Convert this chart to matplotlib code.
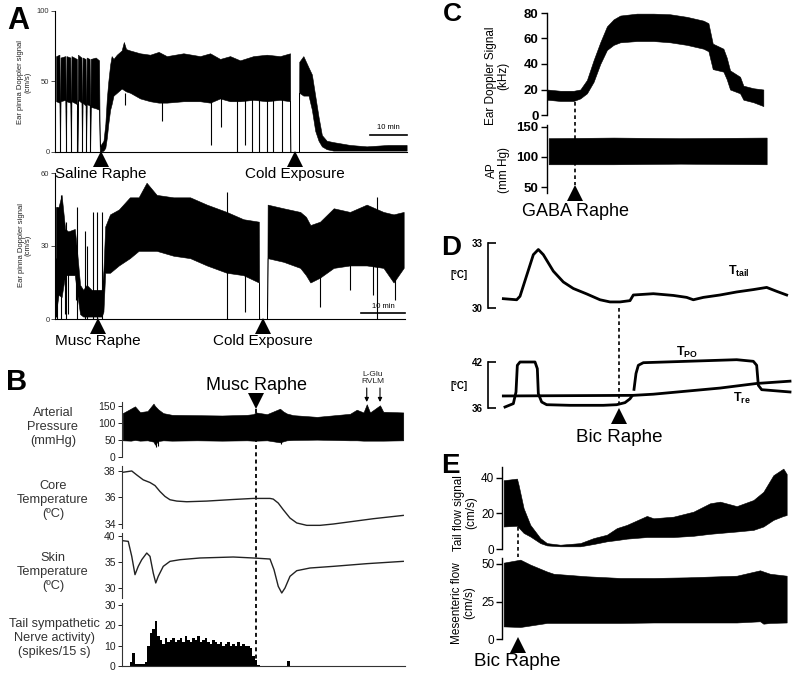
import numpy as np
import matplotlib
matplotlib.use("Agg")
import matplotlib.pyplot as plt
from matplotlib.transforms import blended_transform_factory as blend

plt.rcParams['font.family'] = ['Liberation Sans', 'DejaVu Sans']
plt.rcParams['mathtext.fontset'] = 'custom'
plt.rcParams['mathtext.rm'] = 'Liberation Sans'
plt.rcParams['mathtext.bf'] = 'Liberation Sans:bold'
plt.rcParams['mathtext.it'] = 'Liberation Sans:italic'

# ---------------- data ----------------
# Panel A, top: ear pinna Doppler (cm/s) vs time (min), saline raphe
A1_t = [0.3, 1.2, 1.35, 1.5, 2.8, 2.95, 3.1, 4.15, 4.3, 4.45, 5.9, 6.05, 6.2, 7.15, 7.3, 7.45, 8.25, 8.4,
        8.55, 9.35, 9.5, 9.65, 11.0, 11.9, 12.1, 13.1, 13.6, 14.0, 14.4, 14.9, 15.3, 15.8,
        16.7, 18.0, 18.6, 19.2, 20.3, 23.0, 25.7, 28.0, 30.2, 34.7, 39.2, 41.9, 44.6, 47.3, 50.0, 53.6, 57.2,
        60.8, 63.5, 63.6, 65.9, 66.0, 67.1, 68.5, 69.4, 70.3, 71.2, 72.1, 73.4, 75.2, 79.7, 84.2, 90.0, 95.0]
A1_hi = [68, 69, 0, 67, 68, 0, 68, 67, 0, 68, 66, 0, 69, 67, 0, 67, 66, 0,
         67, 66, 0, 66, 67, 65, 4, 8, 20, 38, 50, 62, 68, 66,
         69, 72, 78, 73, 72, 70, 69, 71, 68, 70, 68, 70, 66, 68, 65, 68, 69,
         68, 70, 0, 0, 64, 68, 60, 55, 40, 25, 12, 8, 7, 5, 4, 5, 5]
A1_lo = [36, 35, 0, 36, 37, 0, 36, 35, 0, 36, 34, 0, 37, 35, 0, 35, 33, 0,
         34, 33, 0, 32, 31, 30, 0, 1, 3, 10, 20, 30, 34, 40,
         42, 45, 44, 43, 42, 38, 36, 35, 35, 36, 36, 35, 38, 36, 36, 37, 36,
         37, 36, 0, 0, 42, 40, 40, 30, 15, 8, 4, 2, 1, 1, 1, 1, 1]
A1_spike_t = [1.35, 2.95, 4.3, 6.05, 7.3, 8.4, 9.5, 18.9, 28.8, 42.2, 44.8, 49.1, 51.4, 53.2, 55.0, 57.2, 59.0, 61.3]
A1_spike_y = [0, 0, 0, 0, 0, 0, 0, 33, 22, 5, 18, 0, 5, 0, 0, 0, 0, 0]
A1_spike_top = [30, 30, 30, 30, 30, 30, 30, 42, 42, 42, 42, 42, 42, 42, 42, 42, 42, 42]
A1_events = {"Saline Raphe": 12.4, "Cold Exposure": 64.9}

# Panel A, bottom: muscimol raphe
A2_t = [0.2, 0.8, 1.5, 2.3, 3.0, 4.5, 4.9, 5.7, 6.4, 7.2, 8.3, 9.5, 10.6, 11.0, 11.4, 12.5, 14.5, 17.0,
        19.0, 20.8, 23.1, 26.9, 30.7, 34.5, 39.0, 42.8, 46.3, 46.4, 48.2, 48.3, 51.9, 55.7, 57.0, 58.0,
        60.2, 63.3, 67.0, 70.8, 74.6, 76.9, 79.2]
A2_hi = [46, 46, 51, 37, 36, 37, 30, 14, 12, 14, 12, 12, 12, 20, 38, 43, 45, 50, 50, 56,
         51, 50, 50, 47, 44, 41, 40, 0, 0, 47, 45.5, 44, 42, 38.6, 40, 45.5, 44, 47, 44, 43, 44]
A2_lo = [2, 10, 9, 18, 18, 18, 12, 2, 1, 1, 1, 1, 1, 3, 19, 19, 22, 25, 28, 28,
         28, 26, 25, 22, 19, 18, 15, 0, 0, 25, 23.5, 21, 18, 15, 17, 21, 22, 22, 21, 15, 21]
A2_up_t = [0.5, 1.4, 2.5, 4.9, 6.8, 7.3, 8.7, 9.5, 10.6, 39.0, 73.1]
A2_up_y = [46, 51, 40, 46, 36, 30, 44, 44, 44, 52, 50]
A2_dn_t = [0.2, 2.3, 3.0, 4.7, 43.2, 60.2, 67.0, 72.3, 77.3]
A2_dn_y = [1, 2, 2, 8, 3, 5, 12, 10, 8]
A2_events = {"Musc Raphe": 9.8, "Cold Exposure": 47.3}

# Panel B
B_ap_t = [0.3, 3.5, 5.2, 7.2, 10.2, 12.6, 13.2, 14.5, 16.5, 20, 30, 40, 50, 52.5, 53.6, 58, 63.2, 64.5, 65.9,
          68.5, 78, 91.2, 93.9, 96.6, 97.9, 99.2, 103.2, 104.5, 112.5]
B_ap_hi = [129, 142, 149, 132, 135, 157, 150, 140, 129, 124, 123, 122, 124, 126, 131, 126, 142, 134, 128, 123,
           118, 127, 139, 131, 155, 131, 152, 133, 131]
B_ap_lo = [49, 48, 50, 48, 49, 45, 36, 47, 49, 48, 49, 48, 49, 48, 48, 49, 43, 46, 49, 50,
           51, 49, 49, 48, 48, 48, 48, 48, 49]
B_ap_dip_t = [13.4, 14.3, 63.6]
B_ap_dip_y = [30, 32, 38]
B_core_t = [0.3, 3.9, 5.9, 8.5, 11.2, 13.2, 15.2, 17.2, 19.2, 21.9, 25.9, 33.9, 44.5, 52.5, 59.2, 60.5, 62.5,
            64.5, 67.2, 69.9, 73.9, 79.2, 84.5, 92.5, 100.5, 112.5]
B_core = [37.9, 38.0, 37.7, 37.33, 37.13, 36.9, 36.45, 36.08, 35.83, 35.73, 35.68, 35.73, 35.85, 35.93, 35.93,
          35.88, 35.58, 35.08, 34.45, 34.08, 33.9, 33.9, 34.0, 34.2, 34.4, 34.65]
B_skin_t = [0.27, 2.5, 3.9, 5.2, 6.5, 7.9, 9.9, 11.2, 12.5, 13.5, 14.5, 16.5, 19.2, 23.2, 31.2, 44.5, 52.5,
            59.2, 60.8, 62.5, 63.9, 65.2, 67.2, 69.9, 75.2, 84.5, 97.9, 112.5]
B_skin = [39.16, 39.03, 36.13, 32.58, 34.19, 35.48, 36.77, 36.13, 32.9, 30.97, 32.26, 34.19, 35.16, 35.48,
          35.81, 36.0, 35.81, 35.61, 33.55, 30.32, 29.03, 30.0, 32.26, 33.35, 33.87, 34.19, 34.71, 35.16]
B_sna_first_bin = 3
B_sna = [2, 6.4, 1, 0.8, 0.8, 0.8, 2, 10, 16, 18, 22, 15, 13, 11, 14, 12, 13, 14, 12, 13,
         14, 12, 15, 13, 12, 14, 13, 15, 12, 13, 14, 12, 11, 13, 12, 11, 12, 10, 11, 12,
         10, 11, 10, 12, 10, 11, 10, 10, 9, 5, 3, 0.5, 0, 0, 0, 0, 0, 0, 0, 0,
         0, 0, 0, 2.5, 0]
B_musc_t = 53.6
B_glu_t = [97.9, 103.2]

# Panel C
C_t = [0, 4, 8, 10, 12, 14, 16, 18, 20, 22, 27, 32, 37, 42, 47, 48.5, 49.8, 53, 54, 55, 58, 59, 62, 65]
C_hi = [20, 19, 19, 20, 27.5, 43, 57, 69.5, 75, 78, 79.5, 79.5, 79, 77, 74, 72, 56, 52, 45, 35, 30, 23, 21, 20]
C_lo = [12, 11, 11, 13, 17, 26, 40, 51, 55, 57, 58, 58, 57, 55, 52, 50, 36, 34, 28, 20, 17, 12, 10, 7]
C_ap_t = [0.5, 20, 40, 66]
C_ap_hi = [131, 132, 131, 132]
C_ap_lo = [88, 88, 89, 88]
C_gaba_t = 8.5

# Panel D
D_tail_t = [0, 4, 5, 7, 9, 10.5, 12, 15, 18, 21, 25, 29, 32, 35, 38, 39, 45, 51, 55, 57, 60, 65, 70, 75, 79, 82, 85]
D_tail = [30.43, 30.38, 30.54, 31.5, 32.46, 32.7, 32.46, 31.7, 31.2, 30.9, 30.65, 30.38, 30.28, 30.28, 30.34,
          30.6, 30.66, 30.58, 30.49, 30.38, 30.49, 30.6, 30.74, 30.85, 30.95, 30.77, 30.6]
D_po1_t = [0.5, 3, 3.8, 4.2, 5, 9.5, 10.2, 10.5, 11.5, 13, 20, 30, 34, 36.5, 38, 38.6]
D_po1 = [36.13, 36.57, 38.09, 41.57, 42.0, 42.0, 41.13, 37.87, 36.78, 36.43, 36.35, 36.35, 36.43, 36.7, 37.2, 37.57]
D_po2_t = [39.2, 39.8, 40.5, 42, 55, 70, 75, 76, 76.5, 77.5, 86]
D_po2 = [38.43, 40.5, 41.57, 41.91, 42.09, 42.3, 42.09, 41.57, 38.96, 38.39, 38.09]
D_re_t = [0, 39, 45, 55, 65, 76, 86]
D_re = [37.57, 37.65, 37.8, 38.2, 38.6, 39.2, 39.5]
D_bic_t = 34.7

# Panel E
E_tail_t = [0, 4, 4.5, 6, 8, 11, 13, 17, 23, 27, 31, 34, 37, 43, 45, 51, 57, 62, 65, 70, 75, 78, 81, 84, 85]
E_tail_hi = [38.5, 39.4, 35.7, 22.8, 13.5, 6.1, 3.3, 2.4, 3.3, 6.1, 8, 11.7, 13.5, 18.5, 17.2, 18.1, 20.9,
             25.6, 26.5, 24, 27.4, 32, 41.3, 45, 42]
E_tail_lo = [12.6, 13, 12, 9, 7, 3.3, 2, 1.5, 1.5, 2.8, 4.3, 5, 5.8, 6.7, 6.7, 6.7, 7.4, 8.5, 9, 9.8, 10.7,
             12.6, 16.3, 18.5, 19]
E_mes_t = [0, 5, 8, 13, 15, 25, 35, 45, 55, 70, 77, 78, 80, 85]
E_mes_hi = [50.9, 52.9, 49.6, 45, 43.5, 41.8, 40.7, 40.7, 41.1, 42.2, 45.8, 45, 43.5, 42.2]
E_mes_lo = [8.4, 8, 9, 10.7, 10.7, 10.7, 10.7, 11, 11, 11, 11.8, 10.2, 10.7, 11]
E_bic_t = 4.2

# ---------------- helpers ----------------
W, H = 800, 677
fig = plt.figure(figsize=(8, 6.77), dpi=100)


def fy(py):
    return 1 - py / H


def add_ax(x0, y0, x1, y1, bottom=False):
    ax = fig.add_axes([x0 / W, 1 - y1 / H, (x1 - x0) / W, (y1 - y0) / H])
    ax.spines['top'].set_visible(False)
    ax.spines['right'].set_visible(False)
    ax.spines['bottom'].set_visible(bottom)
    ax.set_xticks([])
    ax.patch.set_alpha(0)
    return ax


def band(ax, t, lo, hi):
    ax.fill_between(t, lo, hi, color='k', lw=0.4, edgecolor='k')


def tri(ax, t, py, marker='^', ms=12):
    ax.plot([t], [fy(py)], marker=marker, ms=ms, color='k', mew=0,
            transform=blend(ax.transData, fig.transFigure), clip_on=False)


def dash(ax, t, py0, py1, lw=1.2):
    ax.plot([t, t], [fy(py0), fy(py1)], color='k', lw=lw, ls=(0, (2.2, 1.8)),
            transform=blend(ax.transData, fig.transFigure), clip_on=False)


def label(ax, t, py, s, size):
    ax.text(t, fy(py), s, transform=blend(ax.transData, fig.transFigure),
            ha='center', va='center', fontsize=size)


# ---------------- Panel A ----------------
a1 = add_ax(55, 11, 407, 152, bottom=True)
a1.set_xlim(0, 95.1)
a1.set_ylim(0, 100)
band(a1, A1_t, A1_lo, A1_hi)
a1.vlines(A1_spike_t, A1_spike_y, A1_spike_top, color='k', lw=0.8)
a1.set_yticks([0, 50, 100])
a1.tick_params(axis='y', length=3, width=0.6, labelsize=5.5, pad=1, colors='#333333')
for s in ['left', 'bottom']:
    a1.spines[s].set_linewidth(0.8)
a1.plot([85.1, 95.1], [12, 12], color='k', lw=1.2, clip_on=False)
a1.text(90.1, 17.7, '10 min', fontsize=5.5, ha='center', va='center')
for name, t in A1_events.items():
    tri(a1, t, 158.5)
    label(a1, t, 174, name, 11)
fig.text(24 / W, fy(82), 'Ear pinna Doppler signal\n(cm/s)', rotation=90, fontsize=5.5,
         ha='center', va='center', linespacing=1.0, color='#222222')

a2 = add_ax(55, 173, 405, 319, bottom=True)
a2.set_xlim(0, 79.5)
a2.set_ylim(0, 60)
band(a2, A2_t, A2_lo, A2_hi)
a2.vlines(A2_up_t, 0, A2_up_y, color='k', lw=0.8)
a2.vlines(A2_dn_t, A2_dn_y, 25, color='k', lw=0.8)
a2.set_yticks([0, 30, 60])
a2.tick_params(axis='y', length=3, width=0.6, labelsize=5.5, pad=1, colors='#333333')
for s in ['left', 'bottom']:
    a2.spines[s].set_linewidth(0.8)
a2.plot([69.5, 79.5], [2.5, 2.5], color='k', lw=1.2, clip_on=False)
a2.text(74.5, 5.0, '10 min', fontsize=5.5, ha='center', va='center')
for name, t in A2_events.items():
    tri(a2, t, 325.5)
    label(a2, t, 341, name, 11)
fig.text(25 / W, fy(245), 'Ear pinna Doppler signal\n(cm/s)', rotation=90, fontsize=5.5,
         ha='center', va='center', linespacing=1.0, color='#222222')

fig.text(18 / W, fy(21), 'A', fontsize=22, fontweight='bold', ha='center', va='center')

# ---------------- Panel B ----------------
bx = (122, 405)
b_ap = add_ax(bx[0], 402, bx[1], 457)
b_core = add_ax(bx[0], 466, bx[1], 528)
b_skin = add_ax(bx[0], 533, bx[1], 598)
b_sna = add_ax(bx[0], 603, bx[1], 666, bottom=True)
for ax in [b_ap, b_core, b_skin, b_sna]:
    ax.set_xlim(0, 113.2)
    ax.tick_params(axis='y', length=3, width=0.7, labelsize=7.5, pad=1.5, colors='#222222')
    for s in ['left', 'bottom']:
        ax.spines[s].set_linewidth(0.8)
        ax.spines[s].set_color('#333333')

b_ap.set_ylim(0, 161.7)
band(b_ap, B_ap_t, B_ap_lo, B_ap_hi)
b_ap.vlines(B_ap_dip_t, B_ap_dip_y, 50, color='k', lw=0.8)
b_ap.set_yticks([0, 50, 100, 150])

b_core.set_ylim(33.7, 38.375)
b_core.plot(B_core_t, B_core, color='#222222', lw=1.0)
b_core.set_yticks([34, 36, 38])

b_skin.set_ylim(28.06, 40.65)
b_skin.plot(B_skin_t, B_skin, color='#222222', lw=1.0)
b_skin.set_yticks([30, 35, 40])

b_sna.set_ylim(0, 31)
b_sna.bar(B_sna_first_bin + np.arange(len(B_sna)), B_sna, width=1.0, align='edge', color='k', lw=0)
b_sna.set_yticks([0, 10, 20, 30])

tri(b_ap, B_musc_t, 400.5, marker='v', ms=12)
label(b_ap, B_musc_t, 385, 'Musc Raphe', 13)
dash(b_ap, B_musc_t, 409, 666, lw=1.3)
for t in B_glu_t:
    b_ap.annotate('', xy=(t, fy(402)), xytext=(t, fy(388)),
                  xycoords=blend(b_ap.transData, fig.transFigure),
                  textcoords=blend(b_ap.transData, fig.transFigure),
                  arrowprops=dict(arrowstyle='-|>', color='k', lw=0.8, mutation_scale=6,
                                  shrinkA=0, shrinkB=0))
fig.text(373 / W, fy(378), 'L-Glu\nRVLM', fontsize=6, ha='center', va='center', linespacing=1.05,
         color='#222222')

blab = dict(fontsize=9.2, ha='center', va='center', linespacing=1.25, color='#333333')
fig.text(53 / W, fy(427), 'Arterial\nPressure\n(mmHg)', **blab)
fig.text(53 / W, fy(500), 'Core\nTemperature\n(ºC)', **blab)
fig.text(53 / W, fy(572), 'Skin\nTemperature\n(ºC)', **blab)
fig.text(54 / W, fy(638), 'Tail sympathetic\nNerve activity)\n(spikes/15 s)', **blab)
fig.text(17 / W, fy(382), 'B', fontsize=21, fontweight='bold', ha='center', va='center')

# ---------------- Panel C ----------------
c1 = add_ax(547, 13, 767, 115)
c1.set_xlim(0, 66.1)
c1.set_ylim(0, 80)
band(c1, C_t, C_lo, C_hi)
c1.set_yticks([0, 20, 40, 60, 80])
c2 = add_ax(547, 125, 767, 193)
c2.set_xlim(0, 66.1)
c2.set_ylim(40.7, 152.7)
band(c2, C_ap_t, C_ap_lo, C_ap_hi)
c2.set_yticks([50, 100, 150])
for ax in [c1, c2]:
    ax.tick_params(axis='y', length=4, width=1.0, labelsize=9.5, pad=2)
    ax.spines['left'].set_linewidth(1.0)
    for lb in ax.get_yticklabels():
        lb.set_fontweight('bold')
dash(c1, C_gaba_t, 102, 185, lw=1.2)
tri(c1, C_gaba_t, 193)
label(c1, C_gaba_t, 211, 'GABA Raphe', 13)
fig.text(497 / W, fy(76), 'Ear Doppler Signal\n(kHz)', rotation=90, fontsize=8.5, ha='center',
         va='center', linespacing=1.0)
fig.text(498 / W, fy(170), 'AP\n(mm Hg)', rotation=90, fontsize=8.5, ha='center', va='center',
         linespacing=1.0)
fig.text(452 / W, fy(14), 'C', fontsize=19, fontweight='bold', ha='center', va='center')

# ---------------- Panel D ----------------
d1 = add_ax(488, 243, 790, 308)
d1.set_xlim(-4.6, 86)
d1.set_ylim(30, 33)
d1.plot(D_tail_t, D_tail, color='k', lw=2.0)
d1.set_yticks([30, 33])
d2 = add_ax(488, 362, 790, 408)
d2.set_xlim(-4.6, 86)
d2.set_ylim(36, 42)
d2.plot(D_po1_t, D_po1, color='k', lw=2.0, clip_on=False)
d2.plot(D_po2_t, D_po2, color='k', lw=2.0, clip_on=False)
d2.plot(D_re_t, D_re, color='k', lw=2.0, clip_on=False)
d2.set_yticks([36, 42])
for ax in [d1, d2]:
    ax.tick_params(axis='y', direction='in', length=6, width=1.2, labelsize=7, pad=4)
    ax.spines['left'].set_linewidth(1.2)
    for lb in ax.get_yticklabels():
        lb.set_fontweight('bold')
fig.text(459 / W, fy(275), '[°C]', fontsize=7, fontweight='bold', ha='center', va='center')
fig.text(459 / W, fy(386), '[°C]', fontsize=7, fontweight='bold', ha='center', va='center')
fig.text(739 / W, fy(271), r'$\mathbf{T_{tail}}$', fontsize=9, ha='center', va='center')
fig.text(687 / W, fy(352), r'$\mathbf{T_{PO}}$', fontsize=9, ha='center', va='center')
fig.text(742 / W, fy(398), r'$\mathbf{T_{re}}$', fontsize=9, ha='center', va='center')
dash(d1, D_bic_t, 308, 405, lw=1.2)
tri(d1, D_bic_t, 416.5)
label(d1, D_bic_t, 437, 'Bic Raphe', 13.5)
fig.text(451 / W, fy(248), 'D', fontsize=20, fontweight='bold', ha='center', va='center')

# ---------------- Panel E ----------------
e1 = add_ax(502, 467, 790, 549)
e1.set_xlim(-0.5, 86)
e1.set_ylim(0, 45.9)
band(e1, E_tail_t, E_tail_lo, E_tail_hi)
e1.set_yticks([0, 20, 40])
e2 = add_ax(502, 558, 790, 639)
e2.set_xlim(-0.5, 86)
e2.set_ylim(0, 54)
band(e2, E_mes_t, E_mes_lo, E_mes_hi)
e2.set_yticks([0, 25, 50])
for ax in [e1, e2]:
    ax.tick_params(axis='y', length=4, width=1.0, labelsize=8.5, pad=1.5)
    ax.spines['left'].set_linewidth(1.0)
dash(e1, E_bic_t, 527, 557, lw=1.2)
tri(e1, E_bic_t, 645)
label(e1, E_bic_t, 662, 'Bic Raphe', 13.5)
fig.text(465 / W, fy(513), 'Tail flow signal\n(cm/s)', rotation=90, fontsize=8.5, ha='center',
         va='center', linespacing=1.0)
fig.text(463 / W, fy(603), 'Mesenteric flow\n(cm/s)', rotation=90, fontsize=8.5, ha='center',
         va='center', linespacing=1.0)
fig.text(450 / W, fy(466), 'E', fontsize=20, fontweight='bold', ha='center', va='center')

fig.savefig('out.png', dpi=100)
